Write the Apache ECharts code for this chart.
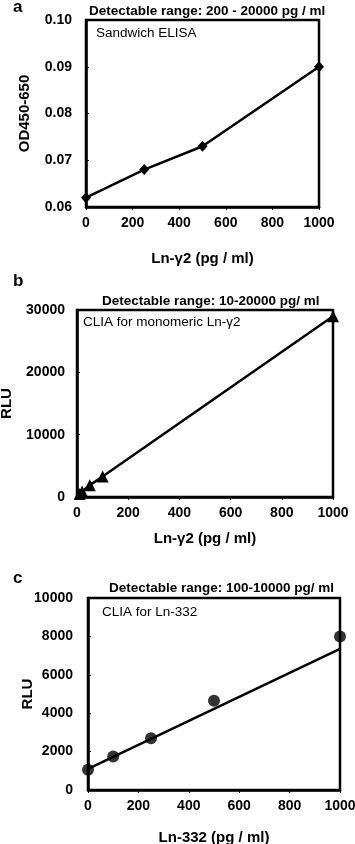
<!DOCTYPE html>
<html>
<head>
<meta charset="utf-8">
<script src="https://cdn.jsdelivr.net/npm/echarts@6/dist/echarts.min.js"></script>
<style>
  html, body { margin: 0; padding: 0; background: #fff; }
  #chart { width: 355px; height: 844px; }
</style>
</head>
<body>
<div id="chart"></div>
<script>
// panel a - sandwich ELISA
const elisaX = [0, 250, 500, 1000];
const elisaY = [0.062, 0.068, 0.073, 0.090];
// panel b - CLIA monomeric Ln-y2
const cliaGX = [10, 20, 50, 100, 1000];
const cliaGY = [500, 900, 1900, 3300, 29000];
// panel c - CLIA Ln-332
const clia332X = [0, 100, 250, 500, 1000];
const clia332Y = [1050, 1750, 2700, 4650, 8000];
const fitX = [0, 1000];
const fitY = [1100, 7350];

const xTicks = [0, 200, 400, 600, 800, 1000];

const font = '"Liberation Sans", Arial, sans-serif';
const black = '#000';

const chart = echarts.init(document.getElementById('chart'), null, {renderer: 'canvas'});

const pair = (xs, ys) => xs.map((x, i) => [x, ys[i]]);
const plain = v => String(v);

const grids = [
  {left: 86, right: 36, top: 20, height: 187},
  {left: 77, right: 22, top: 310, height: 187},
  {left: 88, right: 15, top: 598, height: 192}
];

function xAxis(idx, gap) {
  return {
    gridIndex: idx,
    type: 'value',
    min: xTicks[0],
    max: xTicks[xTicks.length - 1],
    interval: 200,
    name: idx === 2 ? 'Ln-332 (pg / ml)' : 'Ln-γ2 (pg / ml)',
    nameLocation: 'middle',
    nameGap: gap,
    nameMoveOverlap: false,
    nameTextStyle: {fontFamily: font, fontWeight: 'bold', fontSize: 15, color: black},
    axisLine: {lineStyle: {color: black, width: 2.5}},
    axisTick: {length: 3, lineStyle: {color: black, width: 1}},
    axisLabel: {fontFamily: font, fontWeight: 'bold', fontSize: 14, color: black, margin: 9, formatter: plain},
    splitLine: {show: false}
  };
}

function yAxis(idx, min, max, interval, name, fmt, gap, margin) {
  return {
    gridIndex: idx,
    type: 'value',
    min: min, max: max, interval: interval,
    name: name,
    nameLocation: 'middle',
    nameGap: gap,
    nameMoveOverlap: false,
    nameTextStyle: {fontFamily: font, fontWeight: 'bold', fontSize: 15, color: black},
    axisLine: {lineStyle: {color: black, width: 2.5}},
    axisTick: {inside: true, length: 3, lineStyle: {color: black, width: 1}},
    axisLabel: {fontFamily: font, fontWeight: 'bold', fontSize: 14, color: black, margin: margin, formatter: fmt},
    splitLine: {show: false}
  };
}

const headerStyle = {fontFamily: font, fontWeight: 'bold', fontSize: 13.5, color: black};
const letterStyle = {fontFamily: font, fontWeight: 'bold', fontSize: 17, color: black};
const noteStyle = {fontFamily: font, fontSize: 13.5, fill: black};

const option = {
  animation: false,
  backgroundColor: '#fff',
  grid: grids.map(g => Object.assign({show: true, borderColor: black, borderWidth: 2.5, outerBoundsMode: 'none', containLabel: false}, g)),
  title: [
    {text: 'a', left: 8, top: -6, textStyle: letterStyle},
    {text: 'b', left: 8, top: 268, textStyle: letterStyle},
    {text: 'c', left: 8, top: 565, textStyle: letterStyle},
    {text: 'Detectable range: 200 - 20000 pg / ml', left: 84, top: -1, textStyle: headerStyle},
    {text: 'Detectable range: 10-20000 pg/ ml', left: 97, top: 289, textStyle: headerStyle},
    {text: 'Detectable range: 100-10000 pg/ ml', left: 104, top: 576, textStyle: headerStyle}
  ],
  graphic: [
    {type: 'text', left: 96, top: 26, style: Object.assign({text: 'Sandwich ELISA'}, noteStyle)},
    {type: 'text', left: 83, top: 315, style: Object.assign({text: 'CLIA for monomeric Ln-γ2'}, noteStyle)},
    {type: 'text', left: 102, top: 605, style: Object.assign({text: 'CLIA for Ln-332'}, noteStyle)}
  ],
  xAxis: [xAxis(0, 44), xAxis(1, 34), xAxis(2, 40)],
  yAxis: [
    yAxis(0, 0.06, 0.10, 0.01, 'OD450-650', v => v.toFixed(2), 54, 14),
    yAxis(1, 0, 30000, 10000, 'RLU', plain, 63, 12),
    yAxis(2, 0, 10000, 2000, 'RLU', plain, 53, 15)
  ],
  series: [
    {
      type: 'line', xAxisIndex: 0, yAxisIndex: 0,
      data: pair(elisaX, elisaY),
      symbol: 'diamond', symbolSize: [10, 11],
      lineStyle: {color: black, width: 2.5},
      itemStyle: {color: black}
    },
    {
      type: 'line', xAxisIndex: 1, yAxisIndex: 1,
      data: pair(cliaGX, cliaGY),
      symbol: 'triangle', symbolSize: 12,
      lineStyle: {color: black, width: 2.5},
      itemStyle: {color: black}
    },
    {
      type: 'line', xAxisIndex: 2, yAxisIndex: 2,
      data: pair(fitX, fitY),
      showSymbol: false, symbol: 'none',
      lineStyle: {color: black, width: 2.5}
    },
    {
      type: 'scatter', xAxisIndex: 2, yAxisIndex: 2,
      data: pair(clia332X, clia332Y),
      symbol: 'circle', symbolSize: 12,
      itemStyle: {color: black}
    }
  ]
};

chart.setOption(option);
</script>
</body>
</html>
